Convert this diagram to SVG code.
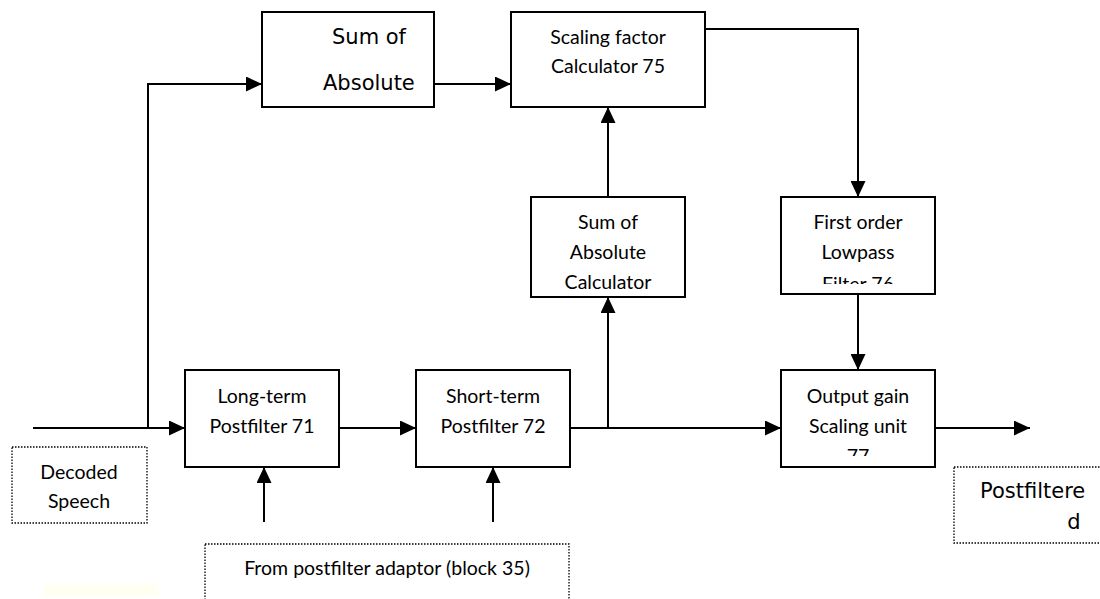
<svg xmlns="http://www.w3.org/2000/svg" width="1100" height="599" viewBox="0 0 1100 599">
<style>
.box{fill:#fff;stroke:#000;stroke-width:2}
.dot{fill:#fff;stroke:#000;stroke-width:1.3;stroke-dasharray:1.5 1.5}
.c{font-family:Lato,"Open Sans",sans-serif;font-size:19.5px;fill:#000;text-anchor:middle}
.v{font-family:"DejaVu Sans",Verdana,sans-serif;font-size:21px;fill:#000}
.ln{fill:none;stroke:#000;stroke-width:2}
</style>
<defs>
<marker id="ah" markerWidth="16" markerHeight="15" refX="16" refY="7.5" orient="auto" markerUnits="userSpaceOnUse">
<path d="M0,0 L16,7.5 L0,15 Z" fill="#000"/>
</marker>
<clipPath id="clipF"><rect x="781" y="197" width="154" height="87"/></clipPath>
<clipPath id="clipO"><rect x="781" y="370" width="154" height="86"/></clipPath>
</defs>
<rect x="44" y="584" width="114" height="13" fill="#fffff2"/>
<g id="connectors">
<path class="ln" d="M33,428 H185" marker-end="url(#ah)"/>
<path class="ln" d="M148,428 V84 H262" marker-end="url(#ah)"/>
<path class="ln" d="M434,84 H511" marker-end="url(#ah)"/>
<path class="ln" d="M705,29 H858 V197" marker-end="url(#ah)"/>
<path class="ln" d="M608,197 V107" marker-end="url(#ah)"/>
<path class="ln" d="M339,428 H416" marker-end="url(#ah)"/>
<path class="ln" d="M570,428 H781" marker-end="url(#ah)"/>
<path class="ln" d="M608,428 V297" marker-end="url(#ah)"/>
<path class="ln" d="M858,294 V370" marker-end="url(#ah)"/>
<path class="ln" d="M935,428 H1030" marker-end="url(#ah)"/>
<path class="ln" d="M264,522 V467" marker-end="url(#ah)"/>
<path class="ln" d="M493,522 V467" marker-end="url(#ah)"/>
</g>
<g id="sum-abs-top">
<rect class="box" x="262" y="12" width="172" height="95"/>
<text class="v" x="332" y="44">Sum of</text>
<text class="v" x="323" y="90">Absolute</text>
</g>
<g id="scaling-factor">
<rect class="box" x="511" y="12" width="194" height="95"/>
<text class="c" x="608" y="44" font-size="18.5">Scaling factor</text>
<text class="c" x="608" y="73" font-size="18.5">Calculator 75</text>
</g>
<g id="sum-abs-calc">
<rect class="box" x="531" y="197" width="154" height="100"/>
<text class="c" x="608" y="229">Sum of</text>
<text class="c" x="608" y="259">Absolute</text>
<text class="c" x="608" y="289">Calculator</text>
</g>
<g id="lowpass">
<rect class="box" x="781" y="197" width="154" height="97"/>
<g clip-path="url(#clipF)">
<text class="c" x="858" y="229">First order</text>
<text class="c" x="858" y="259">Lowpass</text>
<text class="c" x="858" y="291">Filter 76</text>
</g>
</g>
<g id="output-gain">
<rect class="box" x="781" y="370" width="154" height="97"/>
<g clip-path="url(#clipO)">
<text class="c" x="858" y="403">Output gain</text>
<text class="c" x="858" y="433">Scaling unit</text>
<text class="c" x="858" y="463">77</text>
</g>
</g>
<g id="long-term">
<rect class="box" x="185" y="370" width="154" height="97"/>
<text class="c" x="262" y="403">Long-term</text>
<text class="c" x="262" y="433">Postfilter 71</text>
</g>
<g id="short-term">
<rect class="box" x="416" y="370" width="154" height="97"/>
<text class="c" x="493" y="403">Short-term</text>
<text class="c" x="493" y="433">Postfilter 72</text>
</g>
<g id="decoded-speech">
<rect class="dot" x="12" y="447" width="135" height="76"/>
<text class="c" x="79" y="479">Decoded</text>
<text class="c" x="79" y="508">Speech</text>
</g>
<g id="postfiltered">
<rect class="dot" x="954" y="467" width="150" height="76"/>
<text class="v" x="980" y="498">Postfiltere</text>
<text class="v" x="1074" y="529" text-anchor="middle">d</text>
</g>
<g id="from-adaptor">
<rect class="dot" x="205" y="544" width="364" height="60"/>
<text class="c" x="387" y="575" font-size="18.5">From postfilter adaptor (block 35)</text>
</g>
</svg>
